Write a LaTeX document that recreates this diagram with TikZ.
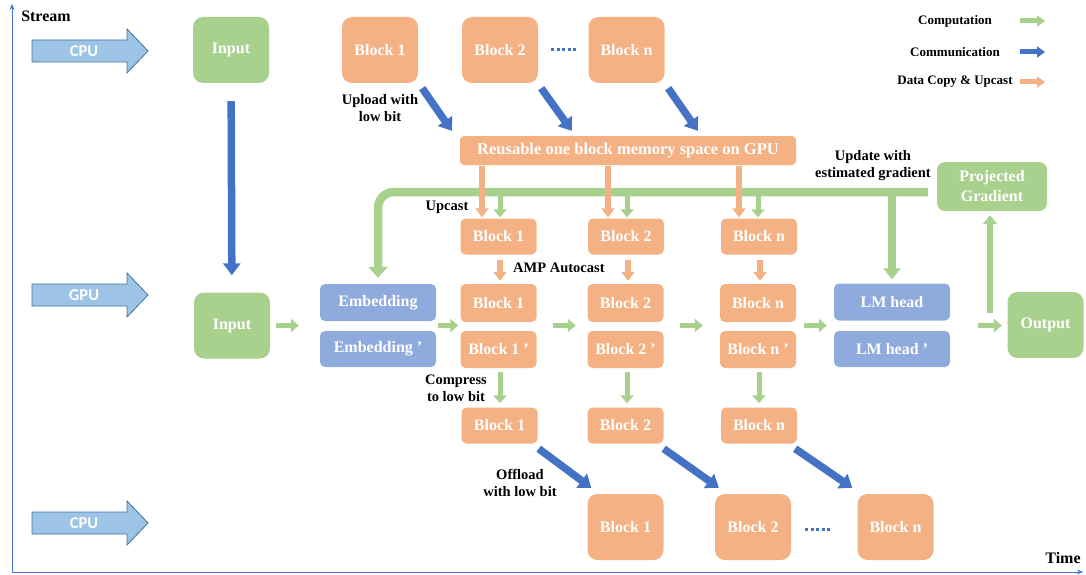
\documentclass[tikz,border=0pt]{standalone}
\usepackage{fontspec}
\setmainfont{Liberation Serif}
\newfontfamily\calfont{Carlito}
\usetikzlibrary{arrows.meta,calc}
\definecolor{cgreen}{RGB}{169,209,142}
\definecolor{corange}{RGB}{244,177,131}
\definecolor{cbluebox}{RGB}{143,170,220}
\definecolor{cblue}{RGB}{68,114,196}
\definecolor{clight}{RGB}{157,195,230}
\definecolor{cborder}{RGB}{65,113,156}
\begin{document}
\begin{tikzpicture}[x=1pt,y=-1pt,
  boxbase/.style={draw=none, text=white, inner sep=0pt, align=center, font=\bfseries\fontsize{16}{20}\selectfont},
  bigo/.style={boxbase, fill=corange, minimum width=76pt, minimum height=66pt, rounded corners=10pt},
  smallo/.style={boxbase, fill=corange, minimum width=76pt, minimum height=36pt, rounded corners=5pt},
  bigg/.style={boxbase, fill=cgreen, minimum width=76pt, minimum height=66pt, rounded corners=10pt},
  bluebox/.style={boxbase, fill=cbluebox, minimum width=116pt, minimum height=37pt, rounded corners=5pt},
  lbl/.style={font=\bfseries\fontsize{14.5}{17}\selectfont, align=center, inner sep=0pt},
  leg/.style={font=\bfseries\fontsize{13}{15}\selectfont, inner sep=0pt},
  garrow/.style={draw=cgreen, line width=5pt, -{Triangle[width=13pt,length=8pt]}},
  oarrow/.style={draw=corange, line width=5.5pt, -{Triangle[width=13pt,length=9pt]}},
  barrow/.style={draw=cblue, line width=7.5pt, -{Triangle[width=17pt,length=12pt]}},
  gthick/.style={draw=cgreen, line width=8.5pt},
  axisline/.style={draw=cblue, line width=1pt, -{Stealth[width=5pt,length=6pt]}},
  streamarrow/.style={fill=clight, draw=cborder, line width=0.8pt},
  dotline/.style={draw=cblue, line width=3pt, dash pattern=on 3pt off 2.6pt}
]
\useasboundingbox (0,0) rectangle (1086,575);

% axes
\coordinate (orig) at (12,572);
\coordinate (ytop) at (12,4);
\coordinate (xend) at (1083,572);
\draw[axisline] (orig) -- (ytop);
\draw[axisline] (orig) -- (xend);
\node[font=\bfseries\fontsize{16}{18}\selectfont, inner sep=0pt] (stream) at (46,16) {Stream};
\node[font=\bfseries\fontsize{16}{18}\selectfont, inner sep=0pt] (time) at (1063,558) {Time};

% stream arrows
\foreach \yc/\nm in {51/CPU, 295/GPU, 523/CPU}{
  \draw[streamarrow] (32,\yc-11) -- (127,\yc-11) -- (127,\yc-22) -- (148,\yc) -- (127,\yc+22) -- (127,\yc+11) -- (32,\yc+11) -- cycle;
  \node[text=white, font=\calfont\bfseries\fontsize{16.5}{18}\selectfont, inner sep=0pt] at (84,\yc) {\nm};
}

% legend
\node[leg] (lc) at (955,21) {Computation};
\node[leg] (lm) at (955,52) {Communication};
\node[leg] (ld) at (955,82) {Data Copy \& Upcast};
\coordinate (lga) at (1020,21); \coordinate (lgb) at (1045,21);
\coordinate (lba) at (1020,52); \coordinate (lbb) at (1045,52);
\coordinate (loa) at (1020,82); \coordinate (lob) at (1045,82);
\draw[draw=cgreen, line width=5pt, -{Triangle[width=11pt,length=8pt]}] (lga) -- (lgb);
\draw[draw=cblue, line width=5pt, -{Triangle[width=11pt,length=8pt]}] (lba) -- (lbb);
\draw[draw=corange, line width=5pt, -{Triangle[width=11pt,length=8pt]}] (loa) -- (lob);

% top CPU row
\node[bigg] (inputtop) at (231,50) {Input};
\node[bigo] (b1t) at (380,50) {Block 1};
\node[bigo] (b2t) at (500,50) {Block 2};
\node[bigo] (bnt) at (626.5,50) {Block n};
\coordinate (dt1) at (551,50); \coordinate (dt2) at (578,50);
\draw[dotline] (dt1) -- (dt2);

\node[boxbase, fill=corange, minimum width=336pt, minimum height=29pt, rounded corners=4pt, font=\bfseries\fontsize{16.5}{20}\selectfont] (mem) at (628,150.5) {Reusable one block memory space on GPU};

\node[lbl] (uplbl) at (380,108) {Upload with\\low bit};
\draw[barrow] ($(b1t.south east)+(4,5)$) -- ($(mem.north west)+(-8,-5)$);
\draw[barrow] ($(b2t.south east)+(3,5)$) -- ($(mem.north west)+(112,-5)$);
\draw[barrow] ($(bnt.south east)+(3.5,5)$) -- ($(mem.north west)+(238,-5)$);

% GPU area
\node[bigg] (inputgpu) at (232,325.5) {Input};
\node[bluebox] (emb) at (378,302.5) {Embedding};
\node[bluebox, minimum height=36pt] (embp) at (378,349) {Embedding '};

\node[smallo] (u1) at (498.5,236.5) {Block 1};
\node[smallo] (u2) at (626,236.5) {Block 2};
\node[smallo] (un) at (759,236.5) {Block n};

\node[smallo, minimum height=38pt] (a1) at (498.5,303) {Block 1};
\node[smallo, minimum height=38pt] (a2) at (625.5,303) {Block 2};
\node[smallo, minimum height=38pt] (an) at (758,303) {Block n};
\node[smallo, minimum height=37pt] (a1p) at (498.5,349.5) {Block 1 '};
\node[smallo, minimum height=37pt] (a2p) at (625.5,349.5) {Block 2 '};
\node[smallo, minimum height=37pt] (anp) at (758,349.5) {Block n '};

\node[bluebox] (lmh) at (892,302) {LM head};
\node[bluebox, minimum height=36pt] (lmhp) at (892,349) {LM head '};
\node[bigg] (output) at (1045.5,325) {Output};
\node[boxbase, fill=cgreen, minimum width=110pt, minimum height=49pt, rounded corners=8pt, font=\bfseries\fontsize{16}{20}\selectfont] (pg) at (992,186.5) {Projected\\Gradient};

\node[smallo] (c1) at (499.5,425.5) {Block 1};
\node[smallo] (c2) at (625.5,425.5) {Block 2};
\node[smallo] (cn) at (759,425.5) {Block n};

% bottom CPU row
\node[bigo] (d1) at (625.5,527) {Block 1};
\node[bigo] (d2) at (753,527) {Block 2};
\node[bigo] (dn) at (895.5,527) {Block n};
\coordinate (db1) at (805,529); \coordinate (db2) at (832,529);
\draw[dotline] (db1) -- (db2);

% communication input
\draw[barrow, shorten <=18pt, shorten >=17pt] (inputtop) -- (inputgpu);

% feedback green line
\coordinate (gl) at (928,192);
\draw[gthick, rounded corners=16pt, -{Triangle[width=19pt,length=11pt]}, shorten >=6pt] (gl) -- (emb.north |- gl) -- (emb.north);
\draw[gthick, -{Triangle[width=17pt,length=11pt]}, shorten >=4pt] (lmh.north |- gl) -- (lmh.north);
\node[lbl] (updlbl) at (873,166) {Update with\\estimated gradient};

% green arrows from line to upcast blocks
\draw[garrow] ($(u1.north)+(1.5,-22)$) -- ($(u1.north)+(1.5,-1)$);
\draw[garrow] ($(u2.north)+(1,-22)$) -- ($(u2.north)+(1,-1)$);
\draw[garrow] ($(un.north)+(-1,-22)$) -- ($(un.north)+(-1,-1)$);
% orange upcast arrows
\draw[oarrow] ($(mem.south -| u1.north)+(-16.5,1)$) -- ($(u1.north)+(-16.5,-1)$);
\draw[oarrow] ($(mem.south -| u2.north)+(-18,1)$) -- ($(u2.north)+(-18,-1)$);
\draw[oarrow] ($(mem.south -| un.north)+(-20,1)$) -- ($(un.north)+(-20,-1)$);
\node[lbl] (upclbl) at (447,207) {Upcast};

% AMP autocast
\draw[oarrow, shorten <=5pt, shorten >=3pt] ($(u1.south)+(1.5,0)$) -- ($(a1.north)+(1.5,0)$);
\draw[oarrow, shorten <=5pt, shorten >=3pt] ($(u2.south)+(2,0)$) -- ($(a2.north)+(2.5,0)$);
\draw[oarrow, shorten <=5pt, shorten >=3pt] ($(un.south)+(1,0)$) -- ($(an.north)+(2,0)$);
\node[lbl, anchor=west] (amplbl) at (513,268) {AMP Autocast};

% computation chain
\draw[garrow, shorten <=6pt, shorten >=21pt] (inputgpu.east) -- (inputgpu.east -| emb.west);
\draw[garrow, shorten <=2pt, shorten >=2pt] (emb.east |- inputgpu) -- (a1.west |- inputgpu);
\draw[garrow, shorten <=16.5pt, shorten >=11.5pt] (a1.east |- inputgpu) -- (a2.west |- inputgpu);
\draw[garrow, shorten <=16.5pt, shorten >=17pt] (a2.east |- inputgpu) -- (an.west |- inputgpu);
\draw[garrow, shorten <=8pt, shorten >=7pt] (an.east |- inputgpu) -- (lmh.west |- inputgpu);
\draw[garrow, shorten <=28pt, shorten >=5.5pt] (lmh.east |- inputgpu) -- (output.west |- inputgpu);
\coordinate (gsrc) at (990,313);
\draw[garrow, line width=6pt, -{Triangle[width=14pt,length=9pt]}, shorten >=4pt] (gsrc) -- (gsrc |- pg.south);

% compress
\draw[garrow, shorten <=4pt, shorten >=4pt] ($(a1p.south)+(1.5,0)$) -- ($(c1.north)+(0.5,0)$);
\draw[garrow, shorten <=4pt, shorten >=4pt] ($(a2p.south)+(1.5,0)$) -- ($(c2.north)+(1.5,0)$);
\draw[garrow, shorten <=4pt, shorten >=4pt] ($(anp.south)+(1,0)$) -- ($(cn.north)+(0,0)$);
\node[lbl] (cmplbl) at (456,388) {Compress\\to low bit};

% offload
\draw[barrow] ($(c1.south east)+(1,5)$) -- ($(d1.north west)+(4,-6)$);
\draw[barrow] ($(c2.south east)+(0,5)$) -- ($(d2.north west)+(4,-6)$);
\draw[barrow] ($(cn.south east)+(-2,5)$) -- ($(dn.north west)+(-5,-6)$);
\node[lbl] (offlbl) at (520,483) {Offload\\with low bit};

\end{tikzpicture}
\end{document}
